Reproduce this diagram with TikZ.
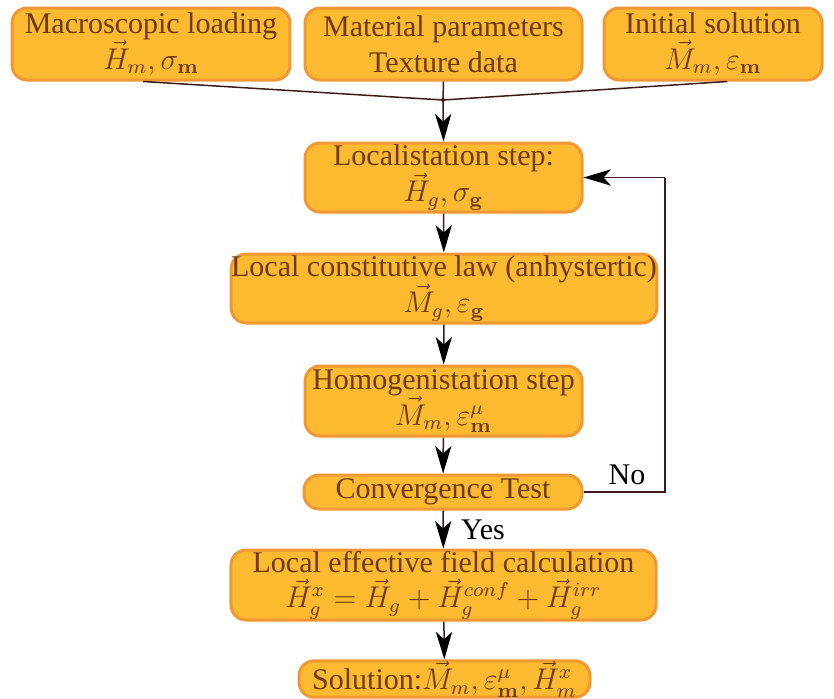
\documentclass[tikz,border=0pt]{standalone}
\usepackage{amsmath}
\usepackage{amssymb}
\usepackage{xcolor}
\usepackage[no-math]{fontspec}
\setmainfont{Liberation Serif}
\usepackage{tikz}
\usetikzlibrary{arrows.meta}
\usetikzlibrary{positioning}

\definecolor{boxfill}{RGB}{251,186,48}
\definecolor{boxline}{RGB}{242,152,50}
\definecolor{boxtext}{RGB}{110,58,20}
\definecolor{linkline}{RGB}{62,26,26}

\tikzset{
  blok/.style={draw=boxline, fill=boxfill, line width=1.2pt, rounded corners=6pt,
    text=boxtext, align=center, inner sep=0pt,
    font={\fontsize{12}{14.3}\selectfont\lineskiplimit=-20pt}},
  flow/.style={draw=linkline, line width=0.6pt,
    arrows = {-Stealth[length=11pt, width=6.5pt, inset=3pt, black]}},
  link/.style={draw=linkline, line width=0.6pt},
  tag/.style={font=\fontsize{12}{14}\selectfont, inner sep=0pt}
}

\begin{document}
\begin{tikzpicture}
\useasboundingbox (0,0) rectangle (11.7247,-9.8128);
% inputs
\node[blok, minimum width=3.908cm, minimum height=1.012cm] (macro) at (2.1228,-0.6186)
  {Macroscopic loading\\ $\vec{H}_m,\sigma_{\mathbf{m}}$};
\node[blok, minimum width=3.894cm, minimum height=1.012cm] (material) at (6.2349,-0.6186)
  {Material parameters\\ Texture data};
\node[blok, minimum width=3.065cm, minimum height=1.012cm] (initial) at (10.0236,-0.6186)
  {Initial solution\\ $\vec{M}_m,\varepsilon_{\mathbf{m}}$};
\coordinate (join) at (6.2279,-1.4058);
% main chain
\node[blok, minimum width=3.894cm, minimum height=0.970cm] (local) at (6.2349,-2.4954)
  {Localistation step:\\ $\vec{H}_g,\sigma_{\mathbf{g}}$};
\node[blok, minimum width=5.961cm, minimum height=0.970cm] (constit) at (6.2419,-4.0558)
  {Local constitutive law (anhystertic)\\ $\vec{M}_g,\varepsilon_{\mathbf{g}}$};
\node[blok, minimum width=3.894cm, minimum height=0.984cm] (homog) at (6.2349,-5.6374)
  {Homogenistation step\\ $\vec{M}_m,\varepsilon^{\mu}_{\mathbf{m}}$};
\node[blok, minimum width=3.908cm, minimum height=0.478cm] (conv) at (6.2279,-6.9167)
  {Convergence Test};
\node[blok, minimum width=5.975cm, minimum height=0.984cm] (field) at (6.2349,-8.2242)
  {Local effective field calculation\\ $\vec{H}^x_g=\vec{H}_g+\vec{H}^{conf}_g+\vec{H}^{irr}_g$};
\node[blok, minimum width=4.091cm, minimum height=0.492cm] (sol) at (6.2490,-9.5457)
  {Solution:$\vec{M}_m,\varepsilon^{\mu}_{\mathbf{m}},\vec{H}^x_m$};
\coordinate (turn) at (9.3488,-2.4954);
\node[tag] (no) at (8.8148,-6.6780) {No};
\node[tag] (yes) at (6.7902,-7.4511) {Yes};

\draw[link] ([xshift=-0.11cm]macro.south) -- (join);
\draw[link] ([xshift=0.20cm]initial.south) -- (join);
\draw[link] (material.south) -- (join);
\fill[linkline] (join) circle (0.8pt);
\draw[flow] (join) -- (local.north);
\draw[flow] (local) -- (constit);
\draw[flow] (constit) -- (homog);
\draw[flow] (homog) -- (conv);
\draw[flow] (conv) -- (field);
\draw[flow] (field) -- (sol);
\draw[link] (conv.east) -| (turn);
\draw[flow] (turn) -- (local.east);
\end{tikzpicture}
\end{document}
